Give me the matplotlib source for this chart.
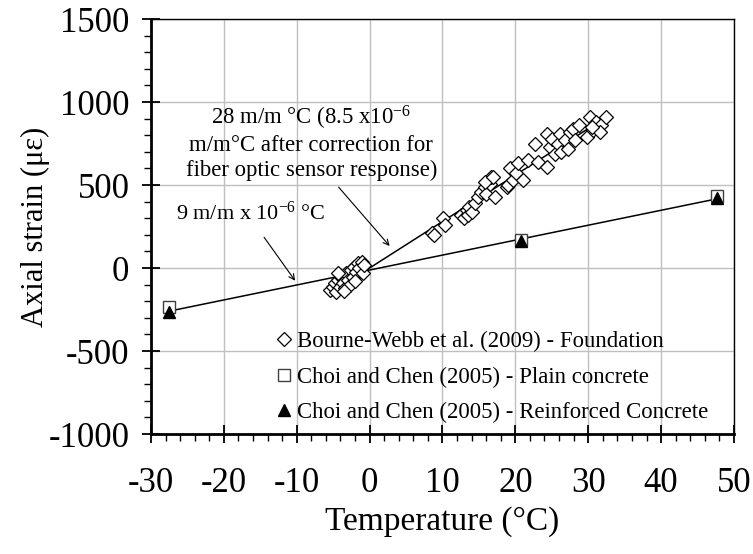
"""
Axial strain vs temperature: Bourne-Webb foundation data and Choi & Chen concrete tests
"""

import matplotlib

matplotlib.use("Agg")
import matplotlib.pyplot as plt
from matplotlib.ticker import MultipleLocator

plt.rcParams["font.family"] = ["Liberation Serif", "DejaVu Serif"]
plt.rcParams["mathtext.fontset"] = "custom"
plt.rcParams["mathtext.rm"] = "Liberation Serif"
plt.rcParams["mathtext.it"] = "Liberation Serif:italic"
plt.rcParams["axes.unicode_minus"] = False

# ------------------------------------------------------------------------------------
# Data
# ------------------------------------------------------------------------------------
# Bourne-Webb et al. (2009) - Foundation
bw_temp = [
    -5.5, -5.0, -4.8, -4.6, -4.35, -4.1, -3.9, -3.7, -3.4, -3.2, -3.0, -2.7, -2.5,
    -2.3, -2.1, -1.8, -1.6, -1.4, -1.1, -0.9, -0.7, -2.0, -3.5, -4.4,
    8.5, 8.9, 10.1, 10.3, 12.6, 13.0, 13.3, 13.5, 13.7, 14.0, 14.4, 14.9, 15.3,
    15.8, 16.0, 16.5, 16.7, 17.2, 15.8, 16.9, 18.8, 19.0, 19.2, 19.7, 20.1, 20.4,
    21.1, 21.8, 22.7, 23.1, 24.3, 24.3, 24.7, 25.0, 25.4, 25.9, 26.1, 26.3, 26.8,
    27.2, 27.5, 27.9, 28.2, 28.8, 29.8, 30.2, 30.7, 31.1, 31.8, 32.5, 31.6, 30.5,
]
bw_strain = [
    -133, -112, -92, -143, -72, -112, -52, -92, -122, -32, -72, -102, -12,
    -52, 8, -22, 28, -2, 38, -32, 18, -80, -140, -30,
    209, 199, 299, 259, 319, 299, 349, 319, 369, 339, 389, 429, 459,
    489, 449, 509, 549, 429, 520, 550, 490, 500, 600, 530, 570, 630,
    530, 650, 750, 640, 610, 810, 730, 780, 690, 750, 810, 700, 770,
    720, 820, 840, 770, 860, 790, 910, 830, 880, 860, 910, 820, 850,
]

# Choi and Chen (2005)
cc_temp = [-27.5, 20.8, 47.7]
cc_plain = [-235, 170, 434]
cc_reinforced = [-262, 160, 420]

# Trend lines
fit9_temp = [-27.3, 48.0]
fit9_strain = [-258, 420]
fit28_temp = [-5.0, 32.5]
fit28_strain = [-140, 910]

# ------------------------------------------------------------------------------------
# Plot
# ------------------------------------------------------------------------------------
fig = plt.figure(figsize=(7.53, 5.54), dpi=100)
ax = fig.add_axes([0.2005, 0.2166, 0.7742, 0.749])

ax.plot(fit9_temp, fit9_strain, color="black", lw=1.1, zorder=2)
ax.plot(fit28_temp, fit28_strain, color="black", lw=1.1, zorder=2)

ax.plot(
    bw_temp, bw_strain, ls="none", marker="D", ms=7, mfc="white", mec="black",
    mew=0.9, label="Bourne-Webb et al. (2009) - Foundation", zorder=3,
)
ax.plot(
    cc_temp, cc_plain, ls="none", marker="s", ms=8, mfc="white", mec="#404040",
    mew=1.0, label="Choi and Chen (2005) - Plain concrete", zorder=3,
)
ax.plot(
    cc_temp, cc_reinforced, ls="none", marker="^", ms=8, mfc="black", mec="black",
    label="Choi and Chen (2005) - Reinforced Concrete", zorder=4,
)

# Annotations
ax.text(
    -8.0, 758,
    "28 m/m °C (8.5 x10$^{-6}$\nm/m°C after correction for\nfiber optic sensor response)",
    ha="center", va="center", fontsize=16.4, linespacing=1.2,
)
ax.annotate(
    "", xy=(3.0, 120), xytext=(-4.5, 500),
    arrowprops=dict(arrowstyle="->", color="black", lw=0.8),
)
ax.text(-16.3, 331, "9 m/m x 10$^{-6}$ °C", ha="center", va="center", fontsize=16)
ax.annotate(
    "", xy=(-10.0, -90), xytext=(-14.7, 199),
    arrowprops=dict(arrowstyle="->", color="black", lw=0.8),
)

# Axes
ax.set_xlim(-30, 50)
ax.set_ylim(-1000, 1500)
ax.xaxis.set_major_locator(MultipleLocator(10))
ax.xaxis.set_minor_locator(MultipleLocator(2))
ax.yaxis.set_major_locator(MultipleLocator(500))
ax.yaxis.set_minor_locator(MultipleLocator(100))
ax.grid(which="major", color="#bfbfbf", lw=1.0)
ax.set_axisbelow(True)

ax.tick_params(which="major", direction="inout", length=13, width=1.3, labelsize=25)
ax.tick_params(which="minor", direction="out", length=5, width=1.0)
ax.tick_params(axis="y", which="major", pad=9)
ax.tick_params(axis="x", which="major", pad=17)

for side in ["left", "bottom"]:
    ax.spines[side].set_linewidth(2.0)
for side in ["top", "right"]:
    ax.spines[side].set_linewidth(1.0)

ax.set_xlabel("Temperature (°C)", fontsize=24, labelpad=5)
ax.set_ylabel("Axial strain (με)", fontsize=22, labelpad=-1)

ax.legend(
    loc="center left", bbox_to_anchor=(0.216, 0.137), frameon=False, fontsize=16.4,
    handlelength=0.6, handletextpad=0.3, labelspacing=0.62, borderpad=0,
    borderaxespad=0,
)

fig.savefig("out.png", dpi=100)
